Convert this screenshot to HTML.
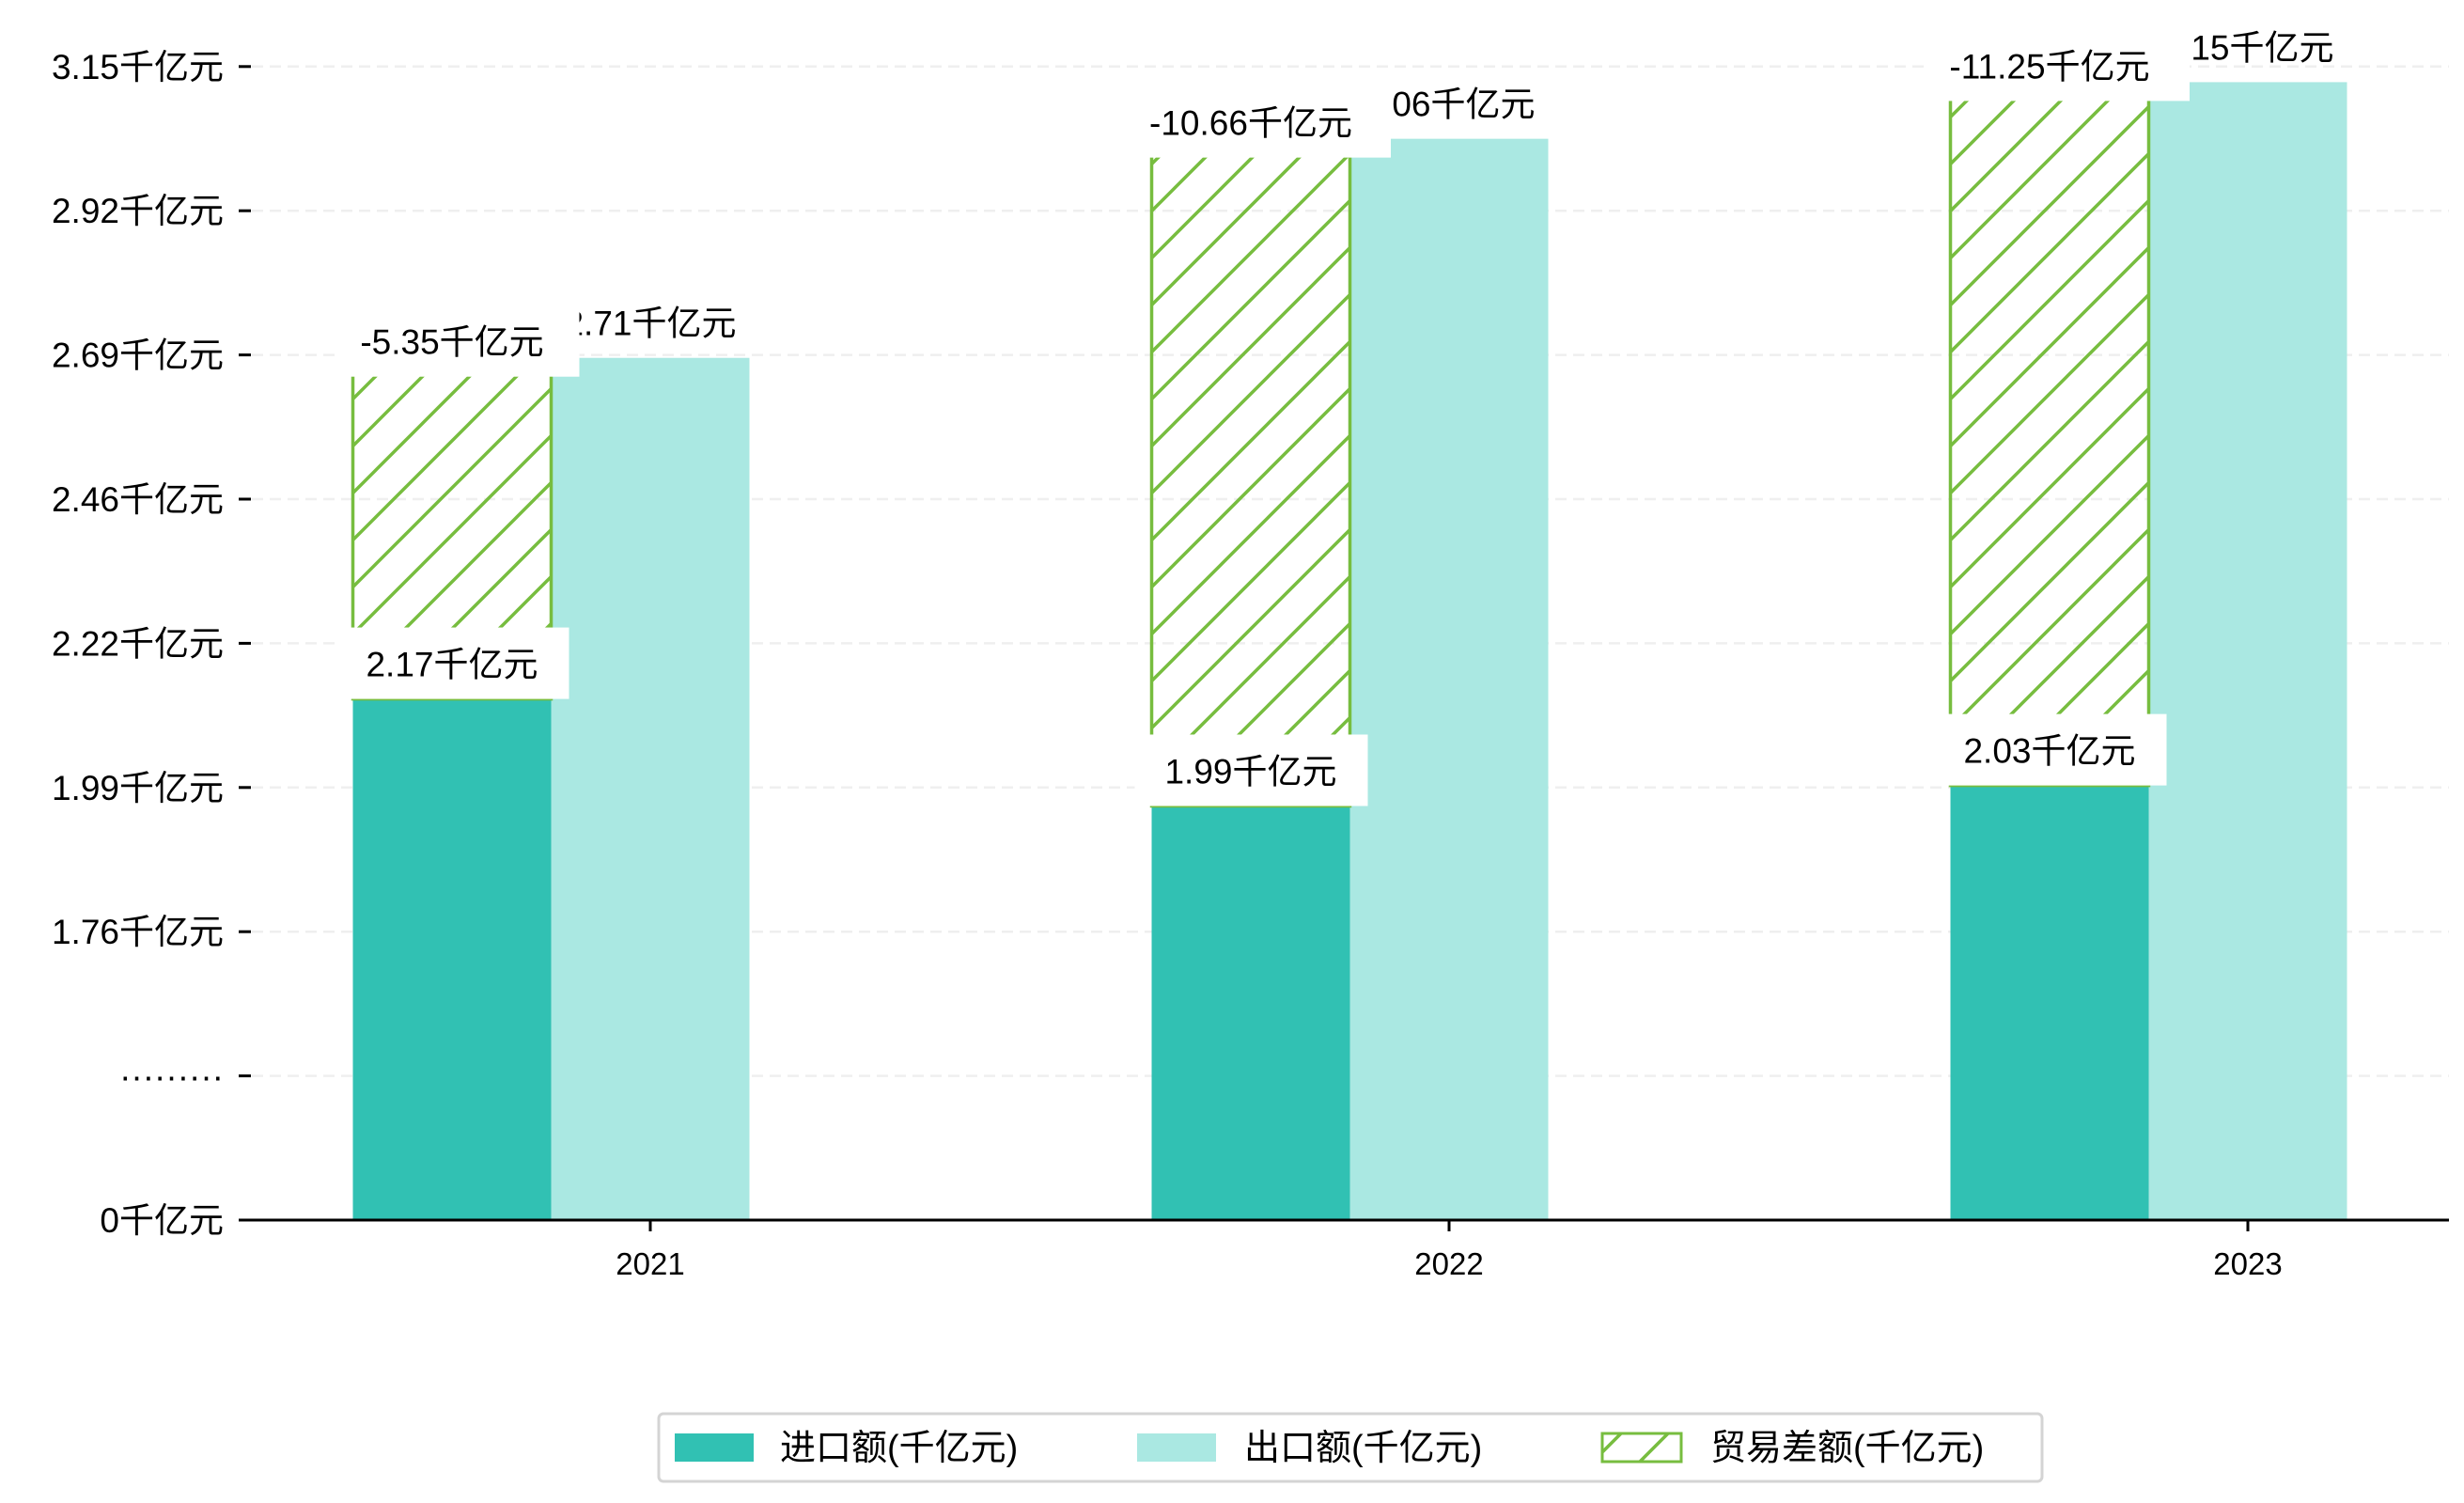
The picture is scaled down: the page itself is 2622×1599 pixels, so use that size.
<!DOCTYPE html>
<html><head><meta charset="utf-8"><style>
html,body{margin:0;padding:0;background:#fff;}
svg{display:block;}
text{font-family:"Liberation Sans","Noto Sans CJK SC",sans-serif;fill:#000;}
</style></head><body>
<svg id="chart" width="2622" height="1599" viewBox="0 0 2622 1599" xmlns="http://www.w3.org/2000/svg">
<defs>
<pattern id="hatch" patternUnits="userSpaceOnUse" width="50" height="50">
<line x1="-5" y1="55" x2="55" y2="-5" stroke="#77bd3f" stroke-width="3.5"/>
<line x1="-30" y1="30" x2="30" y2="-30" stroke="#77bd3f" stroke-width="3.5"/>
<line x1="20" y1="80" x2="80" y2="20" stroke="#77bd3f" stroke-width="3.5"/>
</pattern>
</defs>
<g id="grid"></g>
<g id="bars"></g>
<g id="labels"></g>
<g id="axes"></g>
<g>
<rect x="701" y="1504" width="1472" height="72" rx="5" fill="#fff" stroke="#d4d4d4" stroke-width="3"/>
<rect x="718" y="1525" width="84" height="30" fill="#31c1b3"/>
<text x="830" y="1553" font-size="38">进口额(千亿元)</text>
<rect x="1210" y="1525" width="84" height="30" fill="#aae8e2"/>
<text x="1324" y="1553" font-size="38">出口额(千亿元)</text>
<rect x="1705" y="1525" width="84" height="30" fill="url(#hatch)" stroke="#77bd3f" stroke-width="3"/>
<text x="1820" y="1553" font-size="38">贸易差额(千亿元)</text>
</g>
</svg>
<script>
const categories = ['2021', '2022', '2023'];
const importVals = [2.134, 1.962, 1.995];
const exportVals = [2.682, 3.034, 3.125];
const importLabels = ['2.17千亿元', '1.99千亿元', '2.03千亿元'];
const exportLabels = ['2.71千亿元', '3.06千亿元', '3.15千亿元'];
const balanceLabels = ['-5.35千亿元', '-10.66千亿元', '-11.25千亿元'];
const tickLabels = ['0千亿元', '·········', '1.76千亿元', '1.99千亿元', '2.22千亿元', '2.46千亿元', '2.69千亿元', '2.92千亿元', '3.15千亿元'];
const tickStart = 1.2967, tickStep = 0.23167;

const NS = 'http://www.w3.org/2000/svg';
const yBase = 1298, tickPx = 153.4, xLeft = 255, xRight = 2606;
const catX0 = 692, catDX = 850, bw = 211;
function y(v){ return yBase - (v - tickStart) / tickStep * tickPx; }
function yTick(i){ return yBase - i * tickPx; }
function x(i){ return catX0 + i * catDX; }
function mk(tag, attrs, parent){ const e = document.createElementNS(NS, tag); for (const k in attrs) e.setAttribute(k, attrs[k]); parent.appendChild(e); return e; }

const grid = document.getElementById('grid'), axes = document.getElementById('axes');
const bars = document.getElementById('bars'), labels = document.getElementById('labels');

tickLabels.forEach((t, i) => {
  const yy = yTick(i);
  if (i > 0) {
    const g = mk('line', {x1: 268, x2: xRight, y1: yy, y2: yy, stroke: '#efefef', 'stroke-width': 2.5, 'stroke-dasharray': '12,7'}, grid);
    
    
  }
  const tk = mk('line', {x1: 254, x2: 267, y1: yy, y2: yy, stroke: '#000', 'stroke-width': 3}, axes);
  
  
  const tl = mk('text', {x: 238, y: yy + 13, 'text-anchor': 'end', 'font-size': 37}, axes);
  tl.textContent = t;
  
  
});
const base = mk('line', {x1: 254, x2: xRight, y1: yBase, y2: yBase, stroke: '#000', 'stroke-width': 3}, axes);



categories.forEach((c, i) => {
  const cx = x(i);
  const ix = cx - 1.5 * bw, ex = cx - 0.5 * bw;
  const yi = y(importVals[i]), ye = y(exportVals[i]);
  const ib = mk('rect', {x: ix, y: yi, width: bw, height: yBase - yi, fill: '#31c1b3'}, bars);
  
  
  const eb = mk('rect', {x: ex, y: ye, width: bw, height: yBase - ye, fill: '#aae8e2'}, bars);
  
  
  const hb = mk('rect', {x: ix, y: ye, width: bw, height: yi - ye, fill: 'url(#hatch)', stroke: '#77bd3f', 'stroke-width': 3.5}, bars);
  
  

  // export label
  const el = mk('text', {x: ex + bw / 2, y: ye - 24, 'text-anchor': 'middle', 'font-size': 37}, labels);
  el.textContent = exportLabels[i];
  
  
  // balance label box
  const bbw = i === 0 ? 255 : 282;
  const bbx = ix + bw / 2 - bbw / 2 + 8;
  mk('rect', {x: bbx, y: ye + 20 - 76, width: bbw, height: 76, fill: '#fff'}, labels);
  const bl = mk('text', {x: ix + bw / 2, y: ye - 4, 'text-anchor': 'middle', 'font-size': 37}, labels);
  bl.textContent = balanceLabels[i];
  
  
  // import label box
  mk('rect', {x: ix - 18, y: yi - 76, width: 248, height: 76, fill: '#fff'}, labels);
  const il = mk('text', {x: ix + bw / 2, y: yi - 24, 'text-anchor': 'middle', 'font-size': 37}, labels);
  il.textContent = importLabels[i];
  
  

  const xt = mk('line', {x1: cx, x2: cx, y1: yBase, y2: yBase + 12, stroke: '#000', 'stroke-width': 3}, axes);
  
  
  const xl = mk('text', {x: cx, y: yBase + 58, 'text-anchor': 'middle', 'font-size': 33}, axes);
  xl.textContent = c;
  
  
});
</script>
</body></html>
